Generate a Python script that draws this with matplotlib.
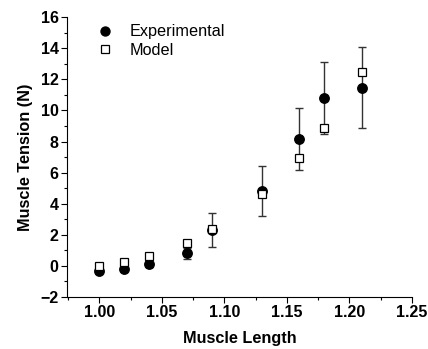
import matplotlib.pyplot as plt
from matplotlib.ticker import MultipleLocator

plt.rcParams['font.family'] = ['Liberation Sans', 'DejaVu Sans']

length = [1.00, 1.02, 1.04, 1.07, 1.09, 1.13, 1.16, 1.18, 1.21]
exp_tension = [-0.3, -0.2, 0.15, 0.8, 2.3, 4.8, 8.15, 10.8, 11.45]
exp_err = [0.15, 0.15, 0.25, 0.35, 1.1, 1.6, 2.0, 2.3, 2.6]
model_tension = [0.0, 0.25, 0.65, 1.5, 2.4, 4.6, 6.95, 8.9, 12.5]

fig = plt.figure(figsize=(4.28, 3.49), dpi=100)
ax = fig.add_axes([0.1565, 0.149, 0.8055, 0.802])

ax.errorbar(length, exp_tension, yerr=exp_err, fmt='none', ecolor='#333333',
            elinewidth=1, capsize=3, capthick=1, zorder=2)
ax.plot(length, exp_tension, 'o', color='black', markersize=6.8,
        label='Experimental', zorder=3)
ax.plot(length, model_tension, 's', markerfacecolor='white',
        markeredgecolor='black', markeredgewidth=0.9, markersize=6.3,
        label='Model', zorder=4)

ax.set_xlim(0.974, 1.25)
ax.set_ylim(-2, 16)
ax.xaxis.set_major_locator(MultipleLocator(0.05))
ax.xaxis.set_minor_locator(MultipleLocator(0.025))
ax.yaxis.set_major_locator(MultipleLocator(2))
ax.yaxis.set_minor_locator(MultipleLocator(1))
ax.xaxis.set_major_formatter(plt.FormatStrFormatter('%.2f'))

for s in ['top', 'right']:
    ax.spines[s].set_visible(False)
ax.tick_params(which='major', direction='out', length=4, width=0.8,
               labelsize=11.5, pad=2)
ax.tick_params(which='minor', direction='out', length=2.5, width=0.8)
for lbl in ax.get_xticklabels() + ax.get_yticklabels():
    lbl.set_fontweight('bold')

ax.set_xlabel('Muscle Length', fontsize=11.7, fontweight='bold', labelpad=8)
ax.set_ylabel('Muscle Tension (N)', fontsize=11.7, fontweight='bold', labelpad=5)

ax.legend(loc='upper left', frameon=False, fontsize=11.7, handletextpad=1.0,
          borderaxespad=0, borderpad=0, bbox_to_anchor=(0.087, 0.974),
          labelspacing=0.2, handlelength=1.0, markerscale=0.95)

fig.savefig('out.png', dpi=100)
